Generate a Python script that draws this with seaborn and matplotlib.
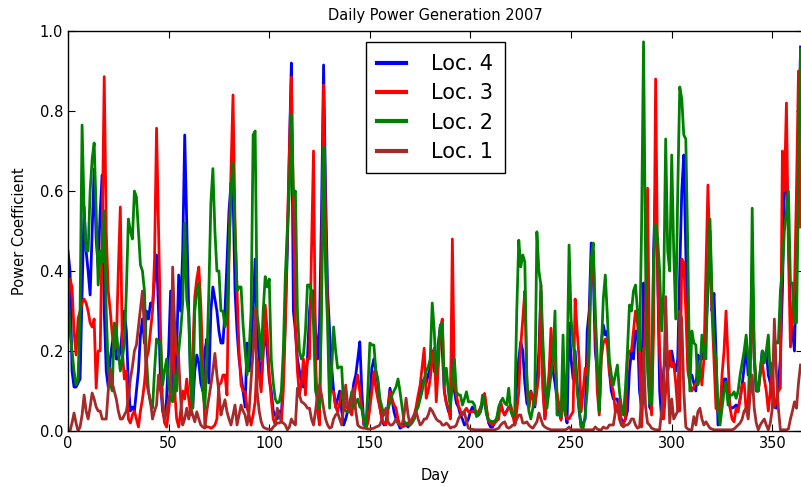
import matplotlib
matplotlib.use("Agg")
import matplotlib.pyplot as plt
import seaborn as sns
import pandas as pd

days = list(range(365))

loc4 = [0.45, 0.40, 0.15, 0.11, 0.11, 0.12, 0.13, 0.35, 0.56, 0.45,
 0.40, 0.34, 0.50, 0.655, 0.48, 0.41, 0.55, 0.64, 0.30, 0.15,
 0.11, 0.18, 0.22, 0.25, 0.18, 0.18, 0.20, 0.25, 0.30, 0.25,
 0.12, 0.05, 0.06, 0.05, 0.10, 0.15, 0.24, 0.28, 0.22, 0.30,
 0.28, 0.32, 0.31, 0.38, 0.44, 0.30, 0.12, 0.05, 0.03, 0.08,
 0.20, 0.35, 0.10, 0.08, 0.20, 0.39, 0.30, 0.45, 0.74, 0.52,
 0.30, 0.12, 0.06, 0.15, 0.19, 0.17, 0.12, 0.10, 0.20, 0.23,
 0.12, 0.30, 0.36, 0.33, 0.30, 0.25, 0.22, 0.22, 0.30, 0.42,
 0.55, 0.62, 0.60, 0.35, 0.25, 0.18, 0.14, 0.10, 0.06, 0.22,
 0.15, 0.20, 0.30, 0.43, 0.25, 0.18, 0.12, 0.20, 0.25, 0.20,
 0.13, 0.10, 0.05, 0.04, 0.03, 0.05, 0.03, 0.15, 0.28, 0.45,
 0.70, 0.92, 0.30, 0.25, 0.18, 0.15, 0.12, 0.11, 0.14, 0.18,
 0.30, 0.35, 0.35, 0.25, 0.18, 0.27, 0.55, 0.915, 0.60, 0.35,
 0.25, 0.16, 0.10, 0.06, 0.08, 0.10, 0.05, 0.015, 0.03, 0.05,
 0.06, 0.08, 0.12, 0.14, 0.18, 0.223, 0.10, 0.015, 0.02, 0.025,
 0.08, 0.157, 0.18, 0.15, 0.12, 0.06, 0.03, 0.015, 0.02, 0.06,
 0.107, 0.08, 0.048, 0.03, 0.02, 0.007, 0.01, 0.02, 0.015, 0.01,
 0.02, 0.025, 0.03, 0.05, 0.08, 0.10, 0.12, 0.13, 0.12, 0.14,
 0.157, 0.20, 0.15, 0.14, 0.22, 0.26, 0.20, 0.10, 0.07, 0.05,
 0.04, 0.315, 0.10, 0.07, 0.06, 0.04, 0.03, 0.015, 0.02, 0.03,
 0.05, 0.06, 0.05, 0.04, 0.04, 0.05, 0.07, 0.09, 0.05, 0.02,
 0.01, 0.01, 0.02, 0.03, 0.05, 0.07, 0.05, 0.04, 0.05, 0.06,
 0.06, 0.04, 0.03, 0.12, 0.18, 0.223, 0.20, 0.12, 0.07, 0.06,
 0.10, 0.08, 0.06, 0.12, 0.20, 0.35, 0.12, 0.03, 0.08, 0.13,
 0.20, 0.15, 0.12, 0.08, 0.05, 0.03, 0.10, 0.05, 0.02, 0.27,
 0.18, 0.13, 0.20, 0.12, 0.05, 0.01, 0.02, 0.03, 0.25, 0.30,
 0.47, 0.40, 0.20, 0.15, 0.05, 0.22, 0.265, 0.24, 0.25, 0.15,
 0.10, 0.08, 0.08, 0.08, 0.04, 0.03, 0.02, 0.03, 0.05, 0.15,
 0.20, 0.18, 0.25, 0.25, 0.10, 0.06, 0.37, 0.30, 0.45, 0.06,
 0.05, 0.45, 0.62, 0.40, 0.10, 0.03, 0.15, 0.20, 0.15, 0.18,
 0.20, 0.17, 0.15, 0.18, 0.40, 0.60, 0.69, 0.45, 0.18, 0.14,
 0.14, 0.12, 0.10, 0.19, 0.18, 0.18, 0.20, 0.25, 0.35, 0.50,
 0.30, 0.344, 0.20, 0.015, 0.057, 0.10, 0.13, 0.13, 0.08, 0.06,
 0.057, 0.06, 0.065, 0.057, 0.08, 0.115, 0.16, 0.215, 0.14, 0.20,
 0.415, 0.18, 0.10, 0.10, 0.15, 0.20, 0.18, 0.20, 0.14, 0.12,
 0.09, 0.06, 0.057, 0.12, 0.18, 0.35, 0.60, 0.657, 0.50, 0.30,
 0.25, 0.20, 0.43, 0.60, 0.96]

loc3 = [0.30, 0.38, 0.36, 0.25, 0.19, 0.28, 0.30, 0.32, 0.33, 0.32,
 0.30, 0.27, 0.26, 0.28, 0.107, 0.20, 0.20, 0.50, 0.886, 0.50,
 0.35, 0.30, 0.24, 0.20, 0.22, 0.40, 0.56, 0.20, 0.13, 0.15,
 0.03, 0.02, 0.04, 0.05, 0.03, 0.01, 0.05, 0.08, 0.12, 0.18,
 0.20, 0.25, 0.30, 0.43, 0.757, 0.50, 0.25, 0.06, 0.02, 0.01,
 0.05, 0.10, 0.35, 0.10, 0.03, 0.01, 0.05, 0.10, 0.08, 0.13,
 0.08, 0.04, 0.20, 0.336, 0.38, 0.41, 0.315, 0.165, 0.015, 0.01,
 0.01, 0.007, 0.01, 0.015, 0.03, 0.115, 0.12, 0.14, 0.14, 0.09,
 0.43, 0.65, 0.84, 0.515, 0.35, 0.20, 0.115, 0.10, 0.098, 0.057,
 0.04, 0.015, 0.04, 0.073, 0.18, 0.14, 0.098, 0.20, 0.315, 0.25,
 0.14, 0.08, 0.03, 0.015, 0.02, 0.02, 0.023, 0.10, 0.265, 0.50,
 0.70, 0.885, 0.58, 0.265, 0.15, 0.09, 0.12, 0.18, 0.09, 0.18,
 0.18, 0.45, 0.70, 0.18, 0.05, 0.015, 0.40, 0.865, 0.515, 0.30,
 0.098, 0.10, 0.098, 0.06, 0.048, 0.07, 0.098, 0.08, 0.06, 0.057,
 0.05, 0.04, 0.08, 0.115, 0.14, 0.10, 0.057, 0.02, 0.007, 0.02,
 0.057, 0.10, 0.148, 0.107, 0.08, 0.057, 0.03, 0.02, 0.015, 0.05,
 0.098, 0.08, 0.065, 0.057, 0.03, 0.015, 0.01, 0.012, 0.015, 0.02,
 0.025, 0.03, 0.04, 0.06, 0.09, 0.115, 0.16, 0.207, 0.082, 0.10,
 0.13, 0.18, 0.207, 0.073, 0.16, 0.257, 0.28, 0.098, 0.07, 0.057,
 0.03, 0.48, 0.115, 0.09, 0.065, 0.05, 0.04, 0.05, 0.057, 0.048,
 0.048, 0.048, 0.05, 0.048, 0.048, 0.06, 0.073, 0.094, 0.057, 0.023,
 0.02, 0.015, 0.02, 0.025, 0.03, 0.073, 0.05, 0.04, 0.05, 0.057,
 0.065, 0.04, 0.015, 0.05, 0.098, 0.215, 0.28, 0.35, 0.12, 0.057,
 0.098, 0.08, 0.065, 0.10, 0.14, 0.365, 0.10, 0.03, 0.09, 0.14,
 0.257, 0.18, 0.18, 0.098, 0.065, 0.027, 0.08, 0.05, 0.03, 0.03,
 0.04, 0.048, 0.33, 0.25, 0.18, 0.048, 0.10, 0.157, 0.14, 0.265,
 0.39, 0.45, 0.265, 0.10, 0.04, 0.18, 0.22, 0.23, 0.215, 0.148,
 0.12, 0.098, 0.048, 0.065, 0.03, 0.015, 0.02, 0.03, 0.18, 0.20,
 0.20, 0.25, 0.30, 0.27, 0.20, 0.01, 0.12, 0.30, 0.607, 0.15,
 0.04, 0.25, 0.88, 0.40, 0.20, 0.10, 0.03, 0.10, 0.15, 0.20,
 0.16, 0.17, 0.12, 0.05, 0.05, 0.43, 0.42, 0.30, 0.15, 0.12,
 0.10, 0.11, 0.12, 0.12, 0.165, 0.115, 0.18, 0.40, 0.615, 0.43,
 0.30, 0.18, 0.057, 0.05, 0.04, 0.14, 0.20, 0.30, 0.18, 0.057,
 0.03, 0.023, 0.057, 0.048, 0.08, 0.115, 0.12, 0.05, 0.073, 0.20,
 0.33, 0.18, 0.12, 0.10, 0.14, 0.17, 0.13, 0.10, 0.05, 0.10,
 0.17, 0.06, 0.073, 0.10, 0.107, 0.70, 0.60, 0.82, 0.45, 0.21,
 0.30, 0.35, 0.60, 0.90, 0.51]

loc2 = [0.35, 0.25, 0.20, 0.15, 0.115, 0.13, 0.30, 0.765, 0.55, 0.45,
 0.45, 0.60, 0.68, 0.72, 0.55, 0.365, 0.45, 0.42, 0.55, 0.30,
 0.15, 0.12, 0.10, 0.27, 0.25, 0.20, 0.15, 0.18, 0.22, 0.35,
 0.53, 0.50, 0.48, 0.60, 0.585, 0.50, 0.415, 0.40, 0.35, 0.18,
 0.10, 0.07, 0.057, 0.15, 0.23, 0.22, 0.223, 0.115, 0.15, 0.18,
 0.12, 0.08, 0.073, 0.14, 0.10, 0.20, 0.25, 0.32, 0.52, 0.33,
 0.29, 0.10, 0.057, 0.30, 0.35, 0.37, 0.18, 0.10, 0.057, 0.18,
 0.35, 0.57, 0.656, 0.50, 0.40, 0.40, 0.30, 0.30, 0.26, 0.28,
 0.45, 0.60, 0.67, 0.50, 0.35, 0.36, 0.36, 0.265, 0.20, 0.14,
 0.20, 0.30, 0.74, 0.75, 0.29, 0.25, 0.18, 0.30, 0.386, 0.36,
 0.38, 0.18, 0.12, 0.08, 0.07, 0.073, 0.098, 0.20, 0.39, 0.50,
 0.60, 0.79, 0.59, 0.60, 0.30, 0.20, 0.18, 0.19, 0.25, 0.365,
 0.365, 0.35, 0.265, 0.10, 0.08, 0.057, 0.30, 0.71, 0.40, 0.265,
 0.057, 0.15, 0.26, 0.20, 0.157, 0.16, 0.16, 0.057, 0.05, 0.048,
 0.07, 0.098, 0.057, 0.07, 0.08, 0.06, 0.057, 0.03, 0.007, 0.10,
 0.22, 0.215, 0.215, 0.15, 0.13, 0.08, 0.06, 0.04, 0.05, 0.057,
 0.07, 0.09, 0.10, 0.11, 0.13, 0.098, 0.06, 0.023, 0.02, 0.015,
 0.015, 0.02, 0.03, 0.05, 0.06, 0.08, 0.10, 0.13, 0.15, 0.16,
 0.18, 0.32, 0.25, 0.14, 0.20, 0.265, 0.27, 0.115, 0.157, 0.10,
 0.057, 0.12, 0.18, 0.098, 0.09, 0.09, 0.065, 0.08, 0.098, 0.073,
 0.073, 0.073, 0.065, 0.036, 0.04, 0.048, 0.09, 0.07, 0.04, 0.027,
 0.025, 0.023, 0.025, 0.03, 0.06, 0.073, 0.082, 0.07, 0.065, 0.107,
 0.05, 0.036, 0.048, 0.30, 0.477, 0.41, 0.44, 0.423, 0.14, 0.05,
 0.03, 0.057, 0.098, 0.498, 0.40, 0.365, 0.223, 0.12, 0.057, 0.10,
 0.14, 0.18, 0.30, 0.04, 0.04, 0.036, 0.24, 0.04, 0.15, 0.465,
 0.28, 0.22, 0.18, 0.10, 0.057, 0.01, 0.007, 0.04, 0.10, 0.19,
 0.43, 0.47, 0.30, 0.18, 0.048, 0.20, 0.33, 0.39, 0.29, 0.18,
 0.14, 0.115, 0.14, 0.165, 0.10, 0.06, 0.04, 0.107, 0.20, 0.315,
 0.30, 0.35, 0.365, 0.30, 0.20, 0.50, 0.973, 0.43, 0.15, 0.07,
 0.065, 0.43, 0.515, 0.48, 0.40, 0.25, 0.35, 0.73, 0.45, 0.40,
 0.69, 0.45, 0.28, 0.60, 0.86, 0.83, 0.74, 0.73, 0.45, 0.10,
 0.25, 0.22, 0.215, 0.115, 0.14, 0.24, 0.20, 0.18, 0.40, 0.53,
 0.35, 0.223, 0.18, 0.057, 0.015, 0.057, 0.098, 0.123, 0.065, 0.09,
 0.09, 0.098, 0.082, 0.10, 0.14, 0.17, 0.20, 0.24, 0.18, 0.10,
 0.557, 0.20, 0.10, 0.10, 0.15, 0.20, 0.17, 0.20, 0.24, 0.14,
 0.14, 0.23, 0.22, 0.22, 0.35, 0.40, 0.50, 0.55, 0.60, 0.37,
 0.37, 0.27, 0.27, 0.60, 0.955]

loc1 = [0.0, 0.0, 0.02, 0.045, 0.02, 0.0, 0.01, 0.04, 0.09, 0.05,
 0.03, 0.06, 0.095, 0.08, 0.06, 0.05, 0.05, 0.03, 0.03, 0.03,
 0.10, 0.157, 0.12, 0.10, 0.08, 0.05, 0.03, 0.03, 0.04, 0.05,
 0.08, 0.13, 0.16, 0.20, 0.215, 0.26, 0.307, 0.35, 0.25, 0.12,
 0.098, 0.073, 0.03, 0.05, 0.065, 0.14, 0.10, 0.073, 0.03, 0.05,
 0.08, 0.098, 0.41, 0.265, 0.20, 0.18, 0.08, 0.015, 0.03, 0.057,
 0.03, 0.057, 0.04, 0.023, 0.048, 0.03, 0.015, 0.01, 0.007, 0.05,
 0.082, 0.115, 0.15, 0.194, 0.14, 0.098, 0.04, 0.06, 0.078, 0.048,
 0.03, 0.015, 0.04, 0.065, 0.015, 0.04, 0.065, 0.05, 0.04, 0.015,
 0.05, 0.13, 0.20, 0.307, 0.098, 0.05, 0.023, 0.01, 0.007, 0.005,
 0.005, 0.003, 0.01, 0.015, 0.057, 0.04, 0.023, 0.02, 0.015, 0.003,
 0.01, 0.03, 0.02, 0.015, 0.107, 0.09, 0.073, 0.07, 0.065, 0.057,
 0.057, 0.03, 0.015, 0.05, 0.09, 0.115, 0.09, 0.057, 0.03, 0.015,
 0.007, 0.01, 0.03, 0.04, 0.045, 0.03, 0.015, 0.06, 0.115, 0.065,
 0.05, 0.08, 0.107, 0.05, 0.015, 0.01, 0.008, 0.007, 0.007, 0.005,
 0.005, 0.006, 0.007, 0.01, 0.012, 0.015, 0.03, 0.045, 0.057, 0.023,
 0.015, 0.015, 0.02, 0.03, 0.02, 0.015, 0.015, 0.04, 0.082, 0.04,
 0.015, 0.03, 0.04, 0.048, 0.03, 0.015, 0.02, 0.03, 0.03, 0.04,
 0.057, 0.05, 0.04, 0.03, 0.025, 0.023, 0.015, 0.015, 0.02, 0.015,
 0.007, 0.01, 0.01, 0.015, 0.03, 0.04, 0.045, 0.048, 0.023, 0.007,
 0.005, 0.004, 0.003, 0.003, 0.003, 0.003, 0.003, 0.003, 0.003, 0.003,
 0.003, 0.003, 0.003, 0.005, 0.007, 0.015, 0.02, 0.023, 0.01, 0.007,
 0.01, 0.015, 0.015, 0.03, 0.04, 0.04, 0.02, 0.02, 0.023, 0.015,
 0.01, 0.007, 0.015, 0.023, 0.045, 0.03, 0.015, 0.01, 0.007, 0.005,
 0.003, 0.003, 0.003, 0.003, 0.003, 0.003, 0.003, 0.003, 0.005, 0.01,
 0.003, 0.003, 0.003, 0.003, 0.003, 0.003, 0.003, 0.003, 0.003, 0.003,
 0.003, 0.003, 0.01, 0.005, 0.003, 0.003, 0.01, 0.007, 0.007, 0.015,
 0.015, 0.015, 0.048, 0.05, 0.078, 0.015, 0.01, 0.015, 0.015, 0.02,
 0.03, 0.03, 0.015, 0.007, 0.01, 0.073, 0.207, 0.06, 0.02, 0.015,
 0.007, 0.005, 0.003, 0.003, 0.003, 0.05, 0.10, 0.336, 0.15, 0.02,
 0.08, 0.03, 0.04, 0.05, 0.30, 0.28, 0.10, 0.01, 0.005, 0.003,
 0.003, 0.036, 0.015, 0.048, 0.057, 0.03, 0.015, 0.023, 0.015, 0.007,
 0.005, 0.003, 0.003, 0.003, 0.003, 0.003, 0.003, 0.003, 0.003, 0.003,
 0.003, 0.005, 0.01, 0.015, 0.02, 0.03, 0.05, 0.057, 0.03, 0.09,
 0.14, 0.057, 0.02, 0.003, 0.015, 0.023, 0.03, 0.015, 0.003, 0.02,
 0.057, 0.28, 0.15, 0.057, 0.003, 0.003, 0.003, 0.003, 0.005, 0.03,
 0.05, 0.073, 0.057, 0.12, 0.165]

labels = ["Loc. 4", "Loc. 3", "Loc. 2", "Loc. 1"]
colors = ["#0000ff", "#ff0000", "#008000", "#a52a2a"]
series = [loc4, loc3, loc2, loc1]
x_ticks = [0, 50, 100, 150, 200, 250, 300, 350]
y_ticks = [0.0, 0.2, 0.4, 0.6, 0.8, 1.0]

for s in series:
    assert len(s) == len(days), len(s)

frames = []
for lab, s in zip(labels, series):
    frames.append(pd.DataFrame({"Day": days, "Power Coefficient": s, "Location": lab}))
df = pd.concat(frames, ignore_index=True)

plt.rcParams.update({
    "font.family": ["DejaVu Sans"],
    "font.size": 10.5,
    "xtick.direction": "in",
    "ytick.direction": "in",
    "xtick.top": True,
    "ytick.right": True,
    "xtick.major.size": 5,
    "ytick.major.size": 5,
    "axes.linewidth": 1.0,
})

fig = plt.figure(figsize=(8.01, 4.87), dpi=100, facecolor="white")
ax = fig.add_axes([68 / 801, 56 / 487, 0.917, 400 / 487])
ax.set_facecolor("white")

sns.lineplot(data=df, x="Day", y="Power Coefficient", hue="Location",
             hue_order=labels, palette=dict(zip(labels, colors)),
             linewidth=2.0, ax=ax, legend=True)

ax.set_xlim(0, 365)
ax.set_ylim(0, 1.0)
ax.set_xticks(x_ticks)
ax.set_xticklabels([str(t) for t in x_ticks])
ax.set_yticks(y_ticks)
ax.set_yticklabels([f"{t:.1f}" for t in y_ticks])
ax.tick_params(labelsize=10.5, colors="black")
ax.set_title("Daily Power Generation 2007", fontsize=10.5, pad=8)
ax.set_xlabel("Day", fontsize=10.5, labelpad=12)
ax.set_ylabel("Power Coefficient", fontsize=10.5, labelpad=9)
ax.grid(False)
for sp in ax.spines.values():
    sp.set_color("black")

handles, labs = ax.get_legend_handles_labels()
leg = ax.legend(handles[-4:], labs[-4:], loc="upper center", fontsize=15,
                handlelength=1.4, handletextpad=1.2, borderpad=0.55,
                labelspacing=0.45, fancybox=False, framealpha=1.0,
                borderaxespad=0.55)
leg.get_frame().set_edgecolor("black")
leg.get_frame().set_linewidth(1.0)
for line in leg.get_lines():
    line.set_linewidth(3.0)

fig.savefig("out.png", dpi=100, facecolor="white")
